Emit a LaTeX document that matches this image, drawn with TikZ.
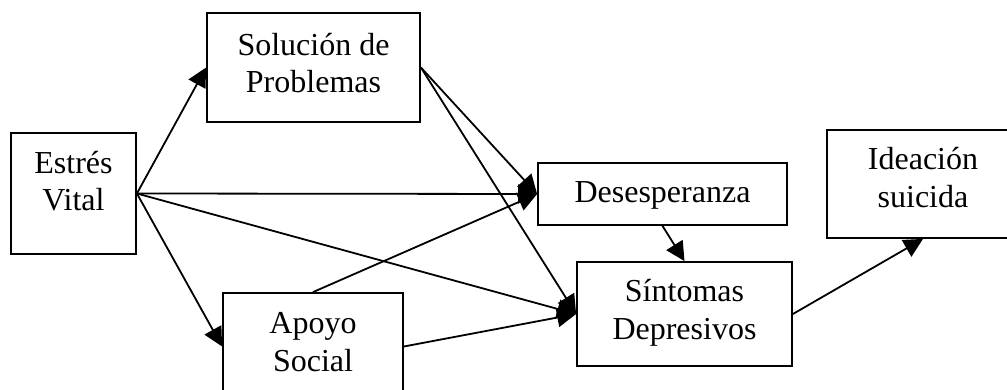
\documentclass[tikz,border=0pt]{standalone}
\usepackage{fontspec}
\setmainfont{Liberation Serif}
\usetikzlibrary{arrows.meta}
\begin{document}
\begin{tikzpicture}[x=1pt,y=-1pt,
  box/.style={draw, line width=1.8pt, fill=white, inner sep=0pt},
  lbl/.style={anchor=base, align=center, inner sep=0pt,
    font=\fontsize{32}{37.5}\selectfont},
  conn/.style={line width=1.8pt, -{Triangle[length=19pt,width=19pt]}}]
\useasboundingbox (0,0) rectangle (1007,390);

% boxes (centre, size)
\node[box, minimum width=125pt, minimum height=121pt] (estres) at (73.5,193.5) {};
\node[box, minimum width=213pt, minimum height=109pt] (sol)    at (313.5,67.5) {};
\node[box, minimum width=249pt, minimum height=62pt]  (desesp) at (662.5,194) {};
\node[box, minimum width=215pt, minimum height=104pt] (sint)   at (684.5,314) {};
\node[box, minimum width=192pt, minimum height=108pt] (idea)   at (923,184) {};
\node[box, minimum width=180pt, minimum height=107pt] (apoyo)  at (313,346.5) {};

% labels, placed by the baseline of their last line
\node[lbl] (t-estres) at (73.5,211)   {Estrés\\Vital};
\node[lbl] (t-sol)    at (313.5,93)   {Solución de\\Problemas};
\node[lbl] (t-desesp) at (662.5,203)  {Desesperanza};
\node[lbl] (t-sint)   at (684.5,339)  {Síntomas\\Depresivos};
\node[lbl] (t-idea)   at (923,207.5)  {Ideación\\suicida};
\node[lbl] (t-apoyo)  at (313,371)    {Apoyo\\Social};

% paths
\draw[conn] (estres.east) -- (sol.west);
\draw[conn] (estres.east) -- (desesp.west);
\draw[conn] (estres.east) -- (sint.west);
\draw[conn] (estres.east) -- (apoyo.west);
\draw[conn] (sol.east) -- (desesp.west);
\draw[conn] (sol.east) -- (sint.west);
\draw[conn] (apoyo.north) -- (desesp.west);
\draw[conn] (apoyo.east) -- (sint.west);
\draw[conn] (desesp.south) -- (sint.north);
\draw[conn] (sint.east) -- (idea.south);
\end{tikzpicture}
\end{document}
